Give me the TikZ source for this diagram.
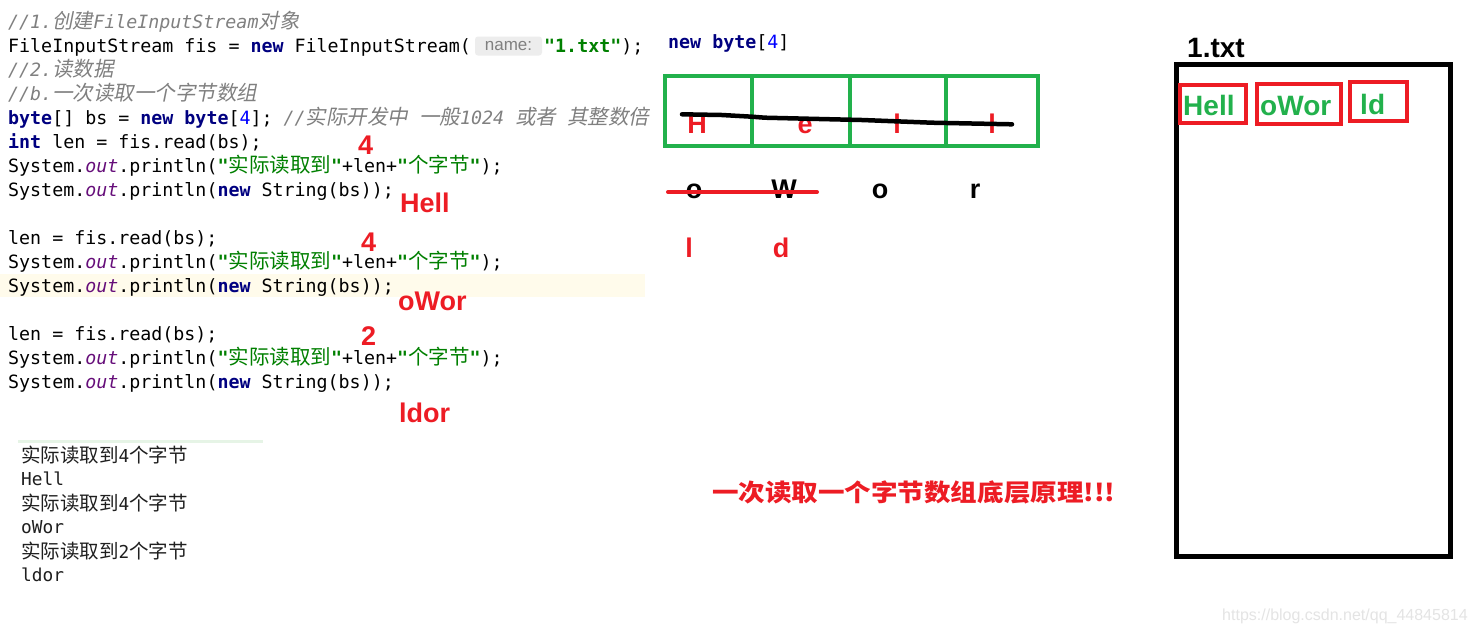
\documentclass[tikz,border=0pt]{standalone}
\usepackage{fontspec}
\usepackage{xcolor}
\usepackage{graphicx}
\setmainfont{Liberation Sans}
\newfontfamily\codefont{DejaVu Sans Mono}[BoldFont={DejaVu Sans Mono Bold},ItalicFont={DejaVu Sans Mono Oblique},BoldItalicFont={DejaVu Sans Mono Bold Oblique}]
\newfontfamily\cjk{Noto Sans CJK SC}
\newfontfamily\cjki{Noto Sans CJK SC}[FakeSlant=0.2]
\frenchspacing
\definecolor{kwc}{RGB}{0,0,128}
\definecolor{strc}{RGB}{0,128,0}
\definecolor{outc}{RGB}{102,14,122}
\definecolor{numc}{RGB}{0,0,255}
\definecolor{cmc}{RGB}{128,128,128}
\definecolor{redc}{RGB}{237,28,36}
\definecolor{grnc}{RGB}{34,177,76}
\definecolor{hlc}{RGB}{255,251,235}
\definecolor{hintbg}{RGB}{237,237,237}
\definecolor{wmc}{RGB}{228,228,228}
\definecolor{conline}{RGB}{230,244,230}
\newcommand\kw[1]{{\color{kwc}\bfseries #1}}
\newcommand\st[1]{{\color{strc}\bfseries #1}}
\newcommand\ou[1]{{\color{outc}\itshape #1}}
\newcommand\nm[1]{{\color{numc}#1}}
\newcommand\cm[1]{{\color{cmc}\itshape #1}}
\newcommand\cn[1]{{\cjk\mdseries\upshape\fontsize{20.5}{22}\selectfont #1}}
\newcommand\cni[1]{{\cjki\mdseries\upshape\fontsize{20.5}{22}\selectfont #1}}
\newcommand\ccn[1]{{\cjk\mdseries\upshape\fontsize{19.5}{22}\selectfont #1}}
\begin{document}
\begin{tikzpicture}[x=1pt,y=-1pt,
  code/.style={anchor=base west,inner sep=0pt,font=\codefont\fontsize{18.3}{22}\selectfont},
  con/.style={anchor=base west,inner sep=0pt,text=black!88,font=\codefont\fontsize{17.8}{20}\selectfont},
  ann/.style={anchor=base west,inner sep=0pt,text=redc,font=\fontsize{27}{30}\selectfont\bfseries},
  cellch/.style={anchor=base,inner sep=0pt,font=\fontsize{27}{30}\selectfont\bfseries},
  hint/.style={rounded corners=3pt,fill=hintbg,text=cmc,inner sep=0pt,minimum width=67pt,minimum height=19pt,font=\fontsize{17}{20}\selectfont},
  greenbox/.style={draw=grnc,line width=4.5pt},
  redbox/.style={draw=redc,line width=4pt},
  gtxt/.style={anchor=base west,inner sep=0pt,text=grnc,font=\fontsize{28}{30}\selectfont\bfseries}]
\useasboundingbox (0,0) rectangle (1474,633);
\fill[white] (0,0) rectangle (1474,633);
% highlighted line
\fill[hlc] (0,274) rectangle (645,297);
% code
\node[code] (l1) at (8,28) {\cm{//1.\cni{创建}FileInputStream\cni{对象}}};
\node[code] (l2) at (8,52) {FileInputStream fis = \kw{new} FileInputStream(};
\node[hint] (hint) at (508.5,46) {name:};
\node[code] (l2b) at (544,52) {\st{"1.txt"});};
\node[code] (l3) at (8,76) {\cm{//2.\cni{读数据}}};
\node[code] (l4) at (8,100) {\cm{//b.\cni{一次读取一个字节数组}}};
\node[code] (l5) at (8,124) {\kw{byte}[] bs = \kw{new} \kw{byte}[\nm{4}]; \cm{//\cni{实际开发中} \cni{一般}1024 \cni{或者} \cni{其整数倍}}};
\node[code] (l6) at (8,148) {\kw{int} len = fis.read(bs);};
\node[code] (l7) at (8,172) {System.\ou{out}.println(\st{"\cn{实际读取到}"}+len+\st{"\cn{个字节}"});};
\node[code] (l8) at (8,196) {System.\ou{out}.println(\kw{new} String(bs));};
\node[code] (l9) at (8,244) {len = fis.read(bs);};
\node[code] (l10) at (8,268) {System.\ou{out}.println(\st{"\cn{实际读取到}"}+len+\st{"\cn{个字节}"});};
\node[code] (l11) at (8,292) {System.\ou{out}.println(\kw{new} String(bs));};
\node[code] (l12) at (8,340) {len = fis.read(bs);};
\node[code] (l13) at (8,364) {System.\ou{out}.println(\st{"\cn{实际读取到}"}+len+\st{"\cn{个字节}"});};
\node[code] (l14) at (8,388) {System.\ou{out}.println(\kw{new} String(bs));};
% red annotations
\node[ann] (a1) at (358,154) {4};
\node[ann] (a2) at (400,212) {Hell};
\node[ann] (a3) at (361,251) {4};
\node[ann] (a4) at (398,310) {oWor};
\node[ann] (a5) at (361,345) {2};
\node[ann] (a6) at (399,422) {ldor};
% console
\draw[conline,line width=3pt] (18,441) -- (263,441);
\node[con] (c1) at (21,462) {\ccn{实际读取到}4\ccn{个字节}};
\node[con] (c2) at (21,485) {Hell};
\node[con] (c3) at (21,510) {\ccn{实际读取到}4\ccn{个字节}};
\node[con] (c4) at (21,533) {oWor};
\node[con] (c5) at (21,558) {\ccn{实际读取到}2\ccn{个字节}};
\node[con] (c6) at (21,581) {ldor};
% byte array
\node[code] (nb) at (668,48) {\kw{new byte}[\nm{4}]};
\draw[greenbox] (665,76) rectangle (1038,146);
\draw[greenbox] (752,76) -- (752,146);
\draw[greenbox] (850,76) -- (850,146);
\draw[greenbox] (946,76) -- (946,146);
\node[cellch,text=redc] (h1) at (697,133) {H};
\node[cellch,text=redc] (h2) at (805,133) {e};
\node[cellch,text=redc] (h3) at (897,133) {l};
\node[cellch,text=redc] (h4) at (992,133) {l};
\draw[black,line width=4.5pt,line cap=round,line join=round] (682,114.3) -- (722,115) -- (752,116.7) -- (765,117.7) -- (832,119.3) -- (862,120) -- (932,122.7) -- (962,123.3) -- (1012,124.3);
\node[cellch,text=black] (o1) at (694,198) {o};
\node[cellch,text=black] (o2) at (784,198) {W};
\node[cellch,text=black] (o3) at (880,198) {o};
\node[cellch,text=black] (o4) at (975,198) {r};
\draw[redc,line width=4pt,line cap=round] (668,192) -- (817,192);
\node[cellch,text=redc] (d1) at (689,257) {l};
\node[cellch,text=redc] (d2) at (781,257) {d};
% title
\node[anchor=base west,inner sep=0pt,text=redc,font=\cjk\bfseries\fontsize{24}{26}\selectfont] (title) at (712,501) {\resizebox{403pt}{\height}{一次读取一个字节数组底层原理!!!}};
% file
\node[anchor=base west,inner sep=0pt,text=black,font=\fontsize{28}{30}\selectfont\bfseries] (fname) at (1187,57) {1.txt};
\draw[black,line width=5pt] (1176.5,64.5) rectangle (1450,556);
\draw[redbox] (1180,85) rectangle (1246,123);
\draw[redbox] (1257,84) rectangle (1341,124);
\draw[redbox] (1350,82) rectangle (1407,121);
\node[gtxt] (g1) at (1183,115) {Hell};
\node[gtxt] (g2) at (1260,115) {oWor};
\node[gtxt] (g3) at (1360,114) {ld};
% watermark
\node[anchor=base west,inner sep=0pt,text=wmc,font=\fontsize{16}{18}\selectfont] (wm) at (1222,620) {https://blog.csdn.net/qq\_44845814};
\end{tikzpicture}
\end{document}
